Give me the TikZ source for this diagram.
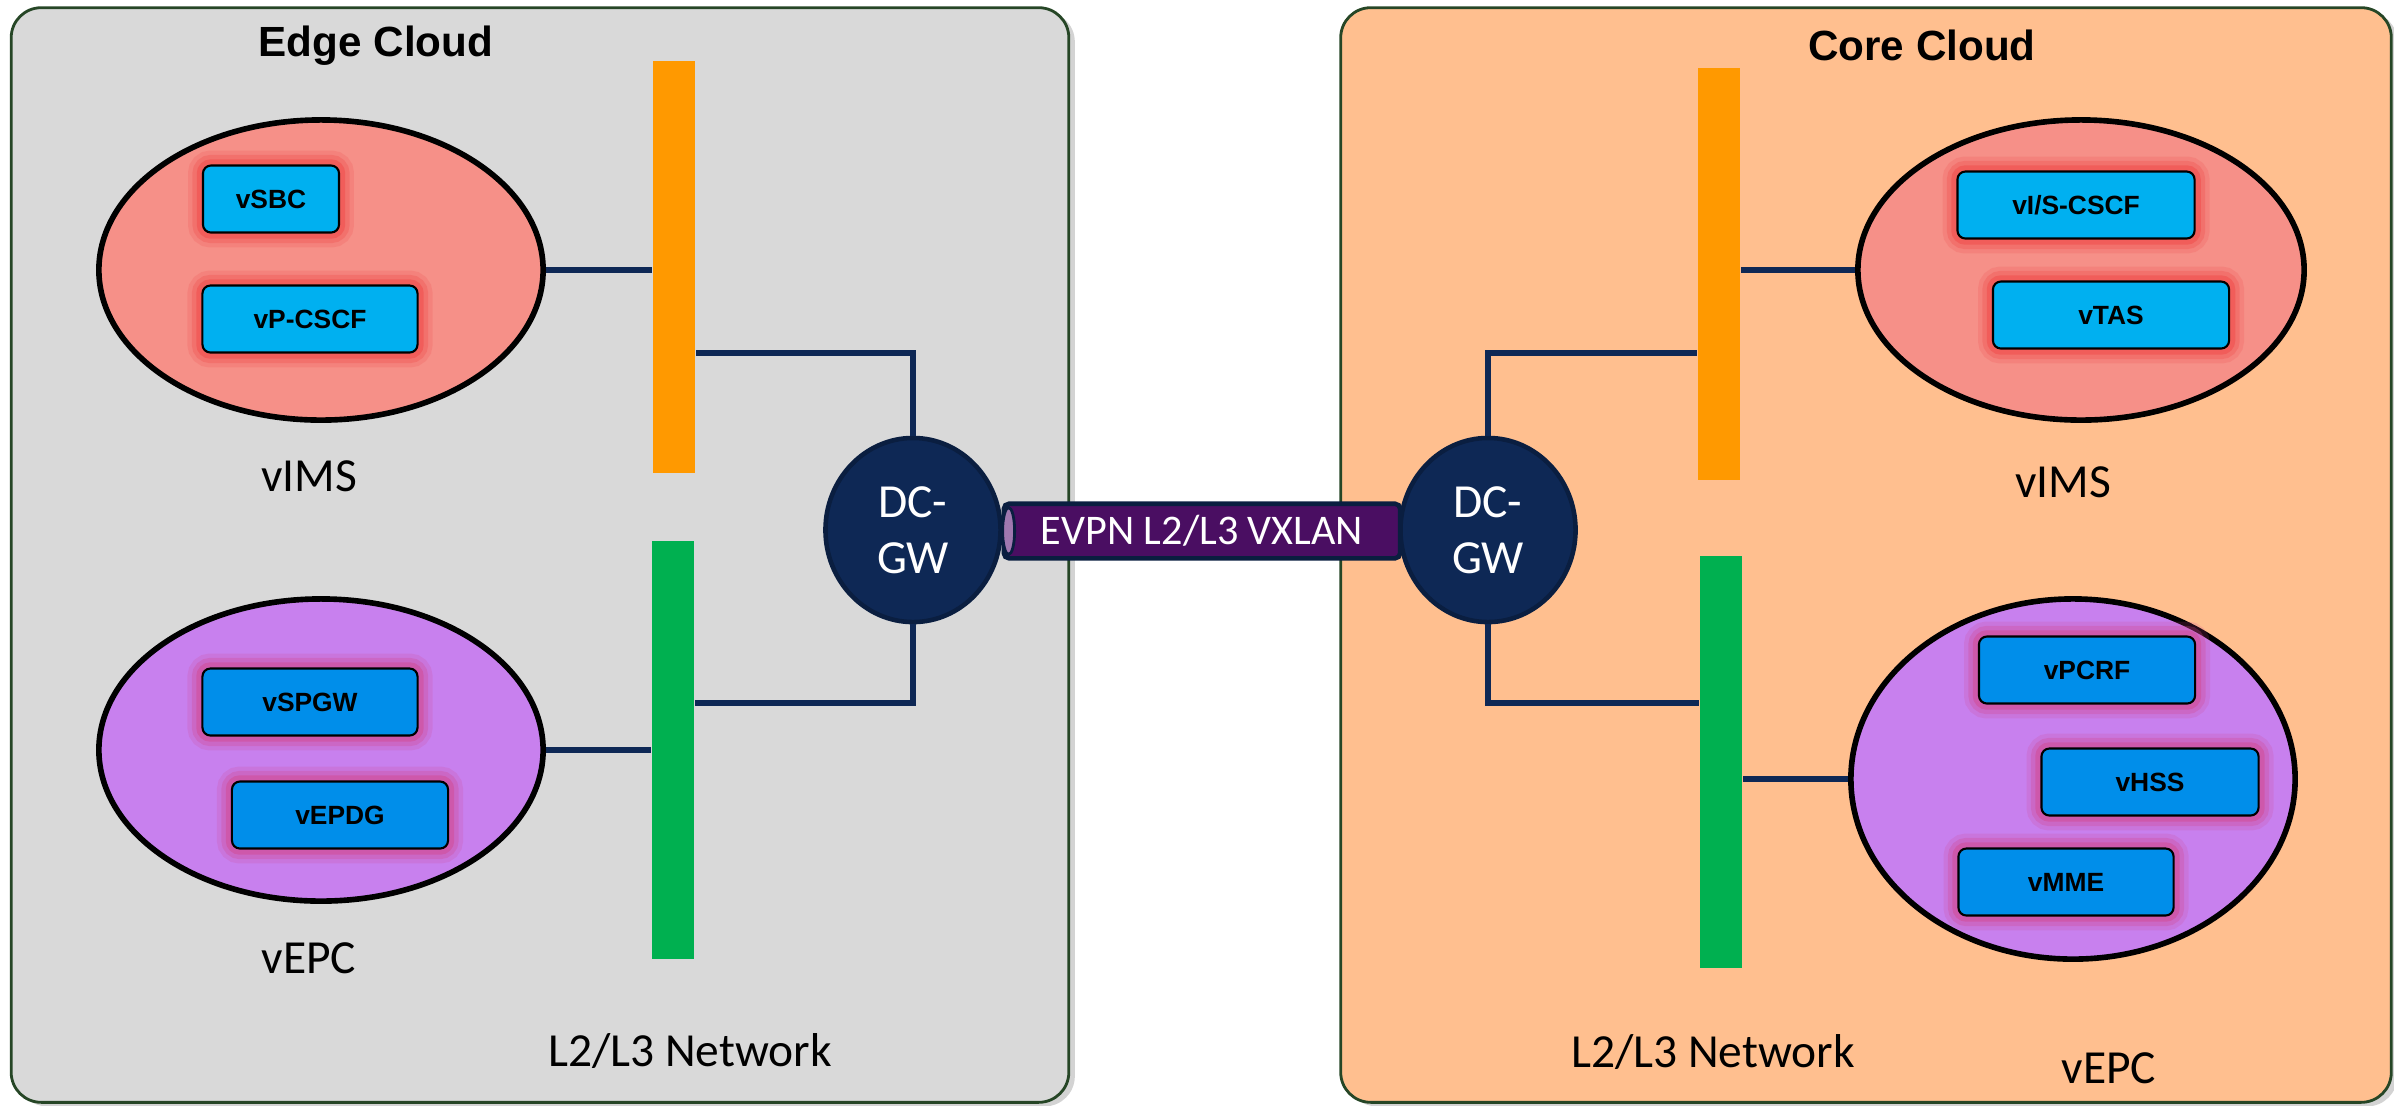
\documentclass[tikz,border=0pt]{standalone}
\usepackage{fontspec}
\setmainfont{Carlito}
\setsansfont{Liberation Sans}
\usetikzlibrary{positioning,shapes.geometric,shadows}

\definecolor{edgegray}{RGB}{217,217,217}
\definecolor{corepeach}{RGB}{255,191,143}
\definecolor{framegreen}{RGB}{38,70,38}
\definecolor{imsred}{RGB}{246,144,136}
\definecolor{epcpurple}{RGB}{200,128,238}
\definecolor{vnfcyan}{RGB}{0,176,240}
\definecolor{vnfblue}{RGB}{0,142,234}
\definecolor{glowred}{RGB}{240,70,70}
\definecolor{glowpink}{RGB}{210,70,140}
\definecolor{barorange}{RGB}{255,153,0}
\definecolor{bargreen}{RGB}{0,176,80}
\definecolor{navy}{RGB}{14,40,85}
\definecolor{navydark}{RGB}{10,30,64}
\definecolor{tubepurple}{RGB}{74,14,98}
\definecolor{tubecap}{RGB}{160,120,176}

\tikzset{
  cloud/.style={rectangle, rounded corners=3mm, draw=framegreen, line width=0.8pt, drop shadow={shadow xshift=0.6mm, shadow yshift=-0.4mm, opacity=0.35}},
  title/.style={font=\sffamily\bfseries\fontsize{12}{14}\selectfont},
  plain/.style={font=\fontsize{13.5}{16}\selectfont},
  vnfgroup/.style={ellipse, draw=black, line width=1.6pt, inner sep=0pt},
  glow/.style={preaction={draw=#1, line width=8.5pt, opacity=0.18},
               preaction={draw=#1, line width=6pt, opacity=0.28},
               preaction={draw=#1, line width=3.5pt, opacity=0.45}},
  vnf/.style={rectangle, rounded corners=0.8mm, draw=black, line width=0.6pt, minimum height=0.67cm, font=\sffamily\bfseries\fontsize{7.5}{9}\selectfont},
  ims/.style={vnf, fill=vnfcyan, glow=glowred},
  epc/.style={vnf, fill=vnfblue, glow=glowpink},
  bar/.style={rectangle, minimum width=0.42cm, minimum height=4.12cm, inner sep=0pt},
  gw/.style={ellipse, fill=navy, draw=navydark, line width=1.3pt, minimum width=1.75cm, minimum height=1.84cm, inner sep=0pt, text=white, align=center, plain},
  link/.style={draw=navy, line width=1.6pt}
}

\begin{document}
\begin{tikzpicture}[x=0.01cm, y=-0.01cm]
  \useasboundingbox (0,0) rectangle (2394,1105);
  % clouds
  \node (edge) [cloud, fill=edgegray, minimum width=10.57cm, minimum height=10.94cm] at (540,555) {};
  \node (core) [cloud, fill=corepeach, minimum width=10.5cm, minimum height=10.94cm] at (1866,555) {};
  \node (edgetitle) [title] at (376,46) {Edge Cloud};
  \node (coretitle) [title] at (1922,45) {Core Cloud};

  % edge cloud
  \node (barL1) [bar, fill=barorange] at (674,267) {};
  \node (barL2) [bar, fill=bargreen, minimum height=4.18cm] at (673,750) {};
  \node (imsL) [vnfgroup, fill=imsred, minimum width=4.44cm, minimum height=3cm] at (321,270) {};
  \node (sbc) [ims, minimum width=1.36cm] at (271,199) {vSBC};
  \node (pcscf) [ims, minimum width=2.15cm] at (310,319) {vP-CSCF};
  \node (imsLlabel) [plain] at (309,476) {vIMS};
  \node (epcL) [vnfgroup, fill=epcpurple, minimum width=4.44cm, minimum height=3.02cm] at (321,750) {};
  \node (spgw) [epc, minimum width=2.15cm] at (310,702) {vSPGW};
  \node (epdg) [epc, minimum width=2.16cm] at (340,815) {vEPDG};
  \node (epcLlabel) [plain] at (309,958) {vEPC};
  \node (netL) [plain] at (690,1051) {L2/L3 Network};
  \node (gwL) [gw] at (913,530) {DC-\\GW};

  % core cloud
  \node (barR1) [bar, fill=barorange] at (1719,274) {};
  \node (barR2) [bar, fill=bargreen] at (1721,762) {};
  \node (imsR) [vnfgroup, fill=imsred, minimum width=4.46cm, minimum height=3cm] at (2081,270) {};
  \node (iscscf) [ims, minimum width=2.37cm] at (2076,205) {vI/S-CSCF};
  \node (tas) [ims, minimum width=2.36cm] at (2111,315) {vTAS};
  \node (imsRlabel) [plain] at (2063,482) {vIMS};
  \node (epcR) [vnfgroup, fill=epcpurple, minimum width=4.44cm, minimum height=3.6cm] at (2073,779) {};
  \node (pcrf) [epc, minimum width=2.16cm] at (2087,670) {vPCRF};
  \node (hss) [epc, minimum width=2.17cm] at (2150,782) {vHSS};
  \node (mme) [epc, minimum width=2.15cm] at (2066,882) {vMME};
  \node (netR) [plain] at (1713,1052) {L2/L3 Network};
  \node (epcRlabel) [plain] at (2109,1068) {vEPC};
  \node (gwR) [gw] at (1488,530) {DC-\\GW};

  % tunnel
  \node (evpn) [rectangle, rounded corners=0.5mm, fill=tubepurple, draw=navydark, line width=1.3pt,
    minimum width=3.96cm, minimum height=0.51cm, text=white, font=\fontsize{12}{14}\selectfont] at (1202,531) {EVPN L2/L3 VXLAN};
  \node (evpncap) [ellipse, fill=tubecap, draw=navydark, line width=0.8pt, inner sep=0pt,
    minimum width=0.12cm, minimum height=0.47cm] at ([xshift=0.07cm]evpn.west) {};

  % links
  \draw[link] (imsL.east) -- (imsL.east -| barL1.west);
  \draw[link] (epcL.east) -- (epcL.east -| barL2.west);
  \draw[link] (gwL.north) |- (barL1.east |- 0,353);
  \draw[link] (gwL.south) |- (barL2.east |- 0,703);
  \draw[link] (imsR.west) -- (imsR.west -| barR1.east);
  \draw[link] (epcR.west) -- (epcR.west -| barR2.east);
  \draw[link] (gwR.north) |- (barR1.west |- 0,353);
  \draw[link] (gwR.south) |- (barR2.west |- 0,703);
\end{tikzpicture}
\end{document}
